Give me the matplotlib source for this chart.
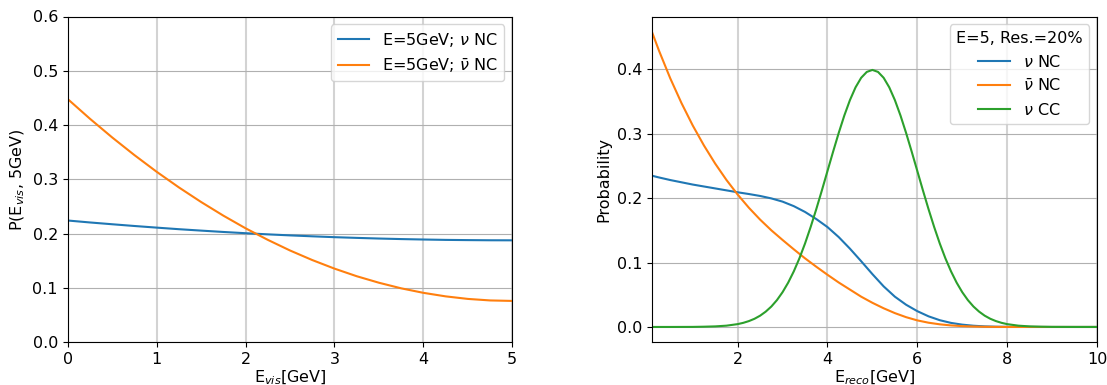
import matplotlib
matplotlib.use("Agg")
import matplotlib.pyplot as plt

# ---------------- data: left panel ----------------
e_vis = [0.0, 0.25, 0.5, 0.75, 1.0, 1.25, 1.5, 1.75, 2.0, 2.25, 2.5, 2.75,
         3.0, 3.25, 3.5, 3.75, 4.0, 4.25, 4.5, 4.75, 5.0]
p_nu_nc = [0.2243, 0.2207, 0.2174, 0.2142, 0.2112, 0.2083, 0.2057, 0.2032,
           0.2009, 0.1988, 0.1969, 0.1952, 0.1936, 0.1923, 0.1911, 0.1901,
           0.1893, 0.1886, 0.1882, 0.1879, 0.1878]
p_nubar_nc = [0.448, 0.4117, 0.3773, 0.3448, 0.3141, 0.2853, 0.2584, 0.2333,
              0.2100, 0.1887, 0.1691, 0.1515, 0.1357, 0.1217, 0.1097, 0.0994,
              0.0911, 0.0846, 0.0799, 0.0771, 0.0762]

# ---------------- data: right panel (NC curves) ----------------
e_reco = [0.1, 0.25, 0.5, 0.75, 1.0, 1.25, 1.5, 1.75, 2.0, 2.25, 2.5, 2.75,
          3.0, 3.25, 3.5, 3.75, 4.0, 4.25, 4.5, 4.75, 5.0, 5.25, 5.5, 5.75,
          6.0, 6.25, 6.5, 6.75, 7.0, 7.25, 7.5, 7.75, 8.0, 8.25, 8.5, 8.75,
          9.0, 9.25, 9.5, 9.75, 10.0]
prob_nu_nc = [0.2346, 0.232, 0.228, 0.2245, 0.221, 0.218, 0.215, 0.212,
              0.209, 0.2063, 0.2033, 0.1995, 0.1945, 0.1875, 0.1785, 0.1675,
              0.155, 0.1395, 0.1215, 0.102, 0.082, 0.063, 0.047, 0.0345,
              0.0245, 0.0165, 0.0105, 0.0063, 0.0036, 0.0019, 0.0009, 0.0004,
              0.0002, 0.0001, 0.0, 0.0, 0.0, 0.0, 0.0, 0.0, 0.0]
prob_nubar_nc = [0.4564, 0.4286, 0.3858, 0.3474, 0.3127, 0.2816, 0.2535,
                 0.2282, 0.2055, 0.1850, 0.1666, 0.1500, 0.1350, 0.1205,
                 0.1065, 0.0935, 0.081, 0.069, 0.058, 0.047, 0.0375, 0.029,
                 0.0215, 0.0152, 0.0102, 0.0066, 0.0041, 0.0024, 0.0013,
                 0.0007, 0.0003, 0.0001, 0.0, 0.0, 0.0, 0.0, 0.0, 0.0, 0.0,
                 0.0, 0.0]

# ---------------- data: right panel (CC curve, finer sampling) ----------------
e_reco_cc = [0.1, 0.5, 1.0, 1.25, 1.5, 1.75, 2.0, 2.125, 2.25, 2.375, 2.5,
             2.625, 2.75, 2.875, 3.0, 3.125, 3.25, 3.375, 3.5, 3.625, 3.75,
             3.875, 4.0, 4.125, 4.25, 4.375, 4.5, 4.625, 4.75, 4.875, 5.0,
             5.125, 5.25, 5.375, 5.5, 5.625, 5.75, 5.875, 6.0, 6.125, 6.25,
             6.375, 6.5, 6.625, 6.75, 6.875, 7.0, 7.125, 7.25, 7.375, 7.5,
             7.625, 7.75, 7.875, 8.0, 8.25, 8.5, 8.75, 9.0, 9.5, 10.0]
prob_nu_cc = [0.0, 0.0, 0.0001, 0.0004, 0.0009, 0.0020, 0.0044, 0.0064,
              0.0091, 0.0127, 0.0175, 0.0238, 0.0317, 0.0417, 0.0540, 0.0688,
              0.0863, 0.1065, 0.1295, 0.1551, 0.1827, 0.2119, 0.2420, 0.2720,
              0.3011, 0.3282, 0.3521, 0.3719, 0.3867, 0.3958, 0.3989, 0.3958,
              0.3867, 0.3719, 0.3521, 0.3282, 0.3011, 0.2720, 0.2420, 0.2119,
              0.1827, 0.1551, 0.1295, 0.1065, 0.0863, 0.0688, 0.0540, 0.0417,
              0.0317, 0.0238, 0.0175, 0.0127, 0.0091, 0.0064, 0.0044, 0.0020,
              0.0009, 0.0004, 0.0001, 0.0, 0.0]

left_xticks = [0, 1, 2, 3, 4, 5]
left_yticks = [0.0, 0.1, 0.2, 0.3, 0.4, 0.5, 0.6]
right_xticks = [2, 4, 6, 8, 10]
right_yticks = [0.0, 0.1, 0.2, 0.3, 0.4]

FS = 11.5
plt.rcParams['font.family'] = ['DejaVu Sans']
plt.rcParams['font.size'] = FS

fig = plt.figure(figsize=(11.07, 3.85), dpi=100)
W, H = 1107, 385
ax1 = fig.add_axes([67.7 / W, (H - 342.3) / H, 444.6 / W, 325.8 / H])
ax2 = fig.add_axes([652.3 / W, (H - 342.3) / H, 444.7 / W, 325.8 / H])

C_BLUE, C_ORANGE, C_GREEN = '#1f77b4', '#ff7f0e', '#2ca02c'


def style_grid(ax):
    ax.set_axisbelow(True)
    ax.xaxis.grid(True, color='#d3d3d3', linewidth=1.5)
    ax.yaxis.grid(True, color='#b0b0b0', linewidth=0.8)
    ax.tick_params(labelsize=FS)


# left panel
ax1.plot(e_vis, p_nu_nc, color=C_BLUE, lw=1.5, label=r'E=5GeV; $\nu$ NC')
ax1.plot(e_vis, p_nubar_nc, color=C_ORANGE, lw=1.5, label=r'E=5GeV; $\bar{\nu}$ NC')
ax1.set_xlim(0, 5)
ax1.set_ylim(0, 0.6)
ax1.set_xticks(left_xticks)
ax1.set_yticks(left_yticks)
ax1.set_xlabel(r'E$_{vis}$[GeV]', fontsize=FS, labelpad=1)
ax1.set_ylabel(r'P(E$_{vis}$, 5GeV)', fontsize=FS)
style_grid(ax1)
ax1.legend(loc='upper right', fontsize=FS)

# right panel
ax2.plot(e_reco, prob_nu_nc, color=C_BLUE, lw=1.5, label=r'$\nu$ NC')
ax2.plot(e_reco, prob_nubar_nc, color=C_ORANGE, lw=1.5, label=r'$\bar{\nu}$ NC')
ax2.plot(e_reco_cc, prob_nu_cc, color=C_GREEN, lw=1.5, label=r'$\nu$ CC')
ax2.set_xlim(0.1, 10)
ax2.set_ylim(-0.0238, 0.4818)
ax2.set_xticks(right_xticks)
ax2.set_yticks(right_yticks)
ax2.set_xlabel(r'E$_{reco}$[GeV]', fontsize=FS, labelpad=1)
ax2.set_ylabel('Probability', fontsize=FS)
style_grid(ax2)
ax2.legend(loc='upper right', fontsize=FS, title='E=5, Res.=20%',
           title_fontsize=FS)

fig.savefig('out.png', dpi=100)
